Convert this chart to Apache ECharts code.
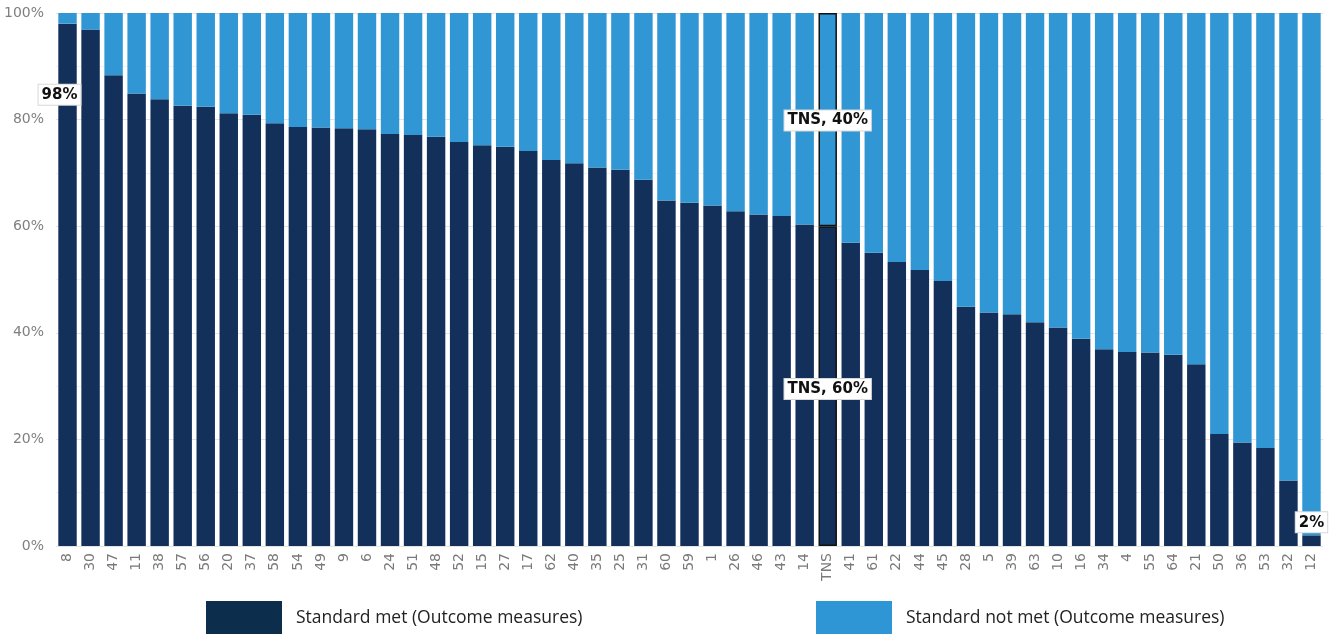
<!DOCTYPE html>
<html>
<head>
<meta charset="utf-8">
<script src="https://cdn.jsdelivr.net/npm/echarts@6/dist/echarts.min.js"></script>
<style>
  html, body { margin: 0; padding: 0; background: #fff; }
  #chart { width: 1333px; height: 634px; }
</style>
</head>
<body>
<div id="chart"></div>
<script>
// Providers, sorted by share of outcome measures meeting the standard
const categories = ['8','30','47','11','38','57','56','20','37','58','54','49','9','6','24','51','48','52','15','27','17','62','40','35','25','31','60','59','1','26','46','43','14','TNS','41','61','22','44','45','28','5','39','63','10','16','34','4','55','64','21','50','36','53','32','12'];

// Standard met (%)
const metValues = [98,96.9,88.3,84.9,83.8,82.6,82.4,81.2,80.9,79.3,78.6,78.5,78.4,78.2,77.3,77.1,76.8,75.8,75.2,74.9,74.1,72.4,71.8,71.0,70.6,68.7,64.8,64.4,63.9,62.8,62.2,61.9,60.3,60,56.9,55.0,53.3,51.8,49.7,44.9,43.8,43.5,42.0,41.0,38.9,36.9,36.4,36.3,35.9,34.1,21.0,19.4,18.4,12.3,2];

// Standard not met (%) is the remainder of each bar
const notMetValues = metValues.map(v => +(100 - v).toFixed(1));

const yTicks = [0, 20, 40, 60, 80, 100];

const seriesNames = ['Standard met (Outcome measures)', 'Standard not met (Outcome measures)'];
const DARK = '#13305a';
const LIGHT = '#3097d4';

const labelBox = {
  show: true,
  color: '#111',
  fontFamily: '"DejaVu Sans", sans-serif',
  fontWeight: 'bold',
  fontSize: 15,
  backgroundColor: '#fff',
  borderColor: '#d8d8d8',
  borderWidth: 1,
  padding: [3, 3, 2, 3]
};

const tnsIndex = categories.indexOf('TNS');

const metData = metValues.map((v, i) => {
  const item = { value: v };
  if (i === tnsIndex) {
    item.itemStyle = { borderColor: '#111', borderWidth: 1.5 };
    item.label = Object.assign({}, labelBox, { position: 'inside', offset: [0, 3], formatter: 'TNS, ' + Math.round(v) + '%' });
  } else if (i === 0) {
    item.label = Object.assign({}, labelBox, { position: 'insideTop', offset: [-8, 56], formatter: Math.round(v) + '%' });
  } else if (i === categories.length - 1) {
    item.label = Object.assign({}, labelBox, { position: 'top', distance: 3, formatter: Math.round(v) + '%' });
  }
  return item;
});

const notMetData = notMetValues.map((v, i) => {
  const item = { value: v };
  if (i === tnsIndex) {
    item.itemStyle = { borderColor: '#111', borderWidth: 1.5 };
    item.label = Object.assign({}, labelBox, { position: 'inside', offset: [0, 1], formatter: 'TNS, ' + Math.round(v) + '%' });
  }
  return item;
});

const chart = echarts.init(document.getElementById('chart'), null, { renderer: 'canvas' });

const legendText = { color: '#222', fontSize: 17.5, fontFamily: '"Open Sans", sans-serif', padding: [0, 0, 0, 9] };

chart.setOption({
  animation: false,
  grid: { left: 56, right: 10, top: 13, bottom: 88, containLabel: false },
  xAxis: {
    type: 'category',
    data: categories,
    axisLine: { show: false },
    axisTick: { show: false },
    axisLabel: {
      rotate: 90,
      margin: 7,
      color: '#7a7a7a',
      fontSize: 14,
      fontFamily: '"DejaVu Sans", sans-serif',
      interval: 0
    }
  },
  yAxis: {
    type: 'value',
    min: yTicks[0],
    max: yTicks[yTicks.length - 1],
    interval: 20,
    axisLine: { show: false },
    axisTick: { show: false },
    axisLabel: {
      margin: 12,
      color: '#7f7f7f',
      fontSize: 14,
      fontFamily: '"DejaVu Sans", sans-serif',
      formatter: v => v + '%'
    },
    splitLine: { lineStyle: { color: '#e4e4e4', width: 1 } },
    minorTick: { show: false, splitNumber: 2 },
    minorSplitLine: { show: true, lineStyle: { color: '#f1f1f1', width: 1 } }
  },
  legend: [
    {
      data: [{ name: seriesNames[0], itemStyle: { color: '#0c2e4c' } }],
      left: 201, top: 596,
      itemWidth: 76, itemHeight: 34,
      icon: 'rect',
      textStyle: legendText,
      selectedMode: false
    },
    {
      data: [{ name: seriesNames[1], itemStyle: { color: '#2e96d5' } }],
      left: 811, top: 596,
      itemWidth: 76, itemHeight: 34,
      icon: 'rect',
      textStyle: legendText,
      selectedMode: false
    }
  ],
  series: [
    {
      name: seriesNames[0],
      type: 'bar',
      stack: 'share',
      barCategoryGap: '20%',
      itemStyle: { color: DARK },
      data: metData,
      z: 2
    },
    {
      name: seriesNames[1],
      type: 'bar',
      stack: 'share',
      barCategoryGap: '20%',
      itemStyle: { color: LIGHT },
      data: notMetData,
      z: 2
    }
  ]
});
</script>
</body>
</html>
